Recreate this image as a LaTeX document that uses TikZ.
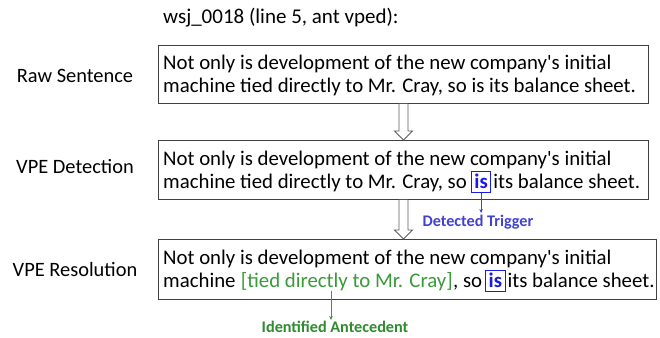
\documentclass[tikz,border=0pt]{standalone}
\usepackage{fontspec}
\setmainfont{Carlito}[Ligatures=TeXOff]
\usetikzlibrary{calc,arrows.meta}

\definecolor{boxline}{HTML}{404040}
\definecolor{trigblue}{HTML}{1A1AE6}
\definecolor{triglabel}{HTML}{4242D2}
\definecolor{antgreen}{HTML}{3A9A3A}
\definecolor{antlabel}{HTML}{2E8B2E}

\tikzset{
  stagebox/.style={draw=boxline, line width=0.9pt, anchor=north west, inner sep=0pt},
  txt/.style={inner sep=0pt, anchor=base west, font=\fontsize{20.8}{24}\selectfont},
  stagelabel/.style={inner sep=0pt, font=\fontsize{20.4}{24}\selectfont},
  trigbox/.style={draw=trigblue, line width=0.7pt, anchor=base west, inner ysep=1pt, inner xsep=3pt,
    text height=15.5pt, text depth=3.5pt, text=trigblue, font=\fontsize{20.8}{24}\selectfont\bfseries},
  note/.style={inner sep=0pt, font=\fontsize{16.2}{19}\selectfont\bfseries},
  hollow/.style={draw=boxline!85, line width=0.8pt, fill=white, line join=miter},
  pointer/.style={line width=0.6pt, -{Stealth[length=4pt,width=3.5pt]}},
}

% open block arrow from the bottom of one box to the top of the next
\newcommand\blockarrow[2]{%
  \draw[hollow]
    ($(#1.south)+(-4.5,0)$) -- ($(#2.north -| #1.south)+(-4.5,-9)$)
    -- ($(#2.north -| #1.south)+(-9,-9)$) -- (#2.north -| #1.south)
    -- ($(#2.north -| #1.south)+(9,-9)$) -- ($(#2.north -| #1.south)+(4.5,-9)$)
    -- ($(#1.south)+(4.5,0)$);}

\begin{document}
\begin{tikzpicture}[x=1pt, y=-1pt]
\useasboundingbox[fill=white] (0,0) rectangle (660,337);

% heading
\node[inner sep=0pt, anchor=base west, font=\fontsize{21}{24}\selectfont] (title) at (163,24)
  {wsj\_0018 (line 5, ant vped):};

% stage names
\node[stagelabel] (lraw) at (75,76) {Raw Sentence};
\node[stagelabel] (ldet) at (75,167) {VPE Detection};
\node[stagelabel] (lres) at (75,269) {VPE Resolution};

% sentence boxes
\node[stagebox, minimum width=490pt, minimum height=58pt] (raw) at (158,45) {};
\node[stagebox, minimum width=490pt, minimum height=59pt] (det) at (158,140) {};
\node[stagebox, minimum width=498pt, minimum height=60pt] (res) at (158,239) {};

% raw sentence
\node[txt] (r1) at (163,69) {Not only is development of the new company's initial};
\node[txt] (r2) at (163,92) {machine tied directly to Mr. Cray, so is its balance sheet.};

% detection
\node[txt] (d1) at (163,165) {Not only is development of the new company's initial};
\node[txt] (d2) at (163,188) {machine tied directly to Mr. Cray, so};
\node[trigbox] (dis) at ([xshift=4pt]d2.base east) {is};
\node[txt] (d3) at ([xshift=2pt]dis.base east) {its balance sheet.};

% resolution
\node[txt] (s1) at (163,264) {Not only is development of the new company's initial};
\node[txt] (s2) at (163,287) {machine};
\node[txt, text=antgreen] (ant) at ([xshift=5pt]s2.base east) {[tied directly to Mr. Cray]};
\node[txt] (s3) at (ant.base east) {, so};
\node[trigbox] (sis) at ([xshift=3pt]s3.base east) {is};
\node[txt] (s4) at ([xshift=2pt]sis.base east) {its balance sheet.};

% flow between stages
\blockarrow{raw}{det}
\blockarrow{det}{res}

% annotations
\node[note, text=triglabel] (trig) at (478,222) {Detected Trigger};
\draw[pointer, triglabel] (dis.south) -- (dis.south |- 0,213);

\node[note, text=antlabel] (antnote) at (335,327) {Identified Antecedent};
\coordinate (antfoot) at (331,320);
\draw[pointer, antgreen] (ant.south -| antfoot) -- (antfoot);
\end{tikzpicture}
\end{document}
